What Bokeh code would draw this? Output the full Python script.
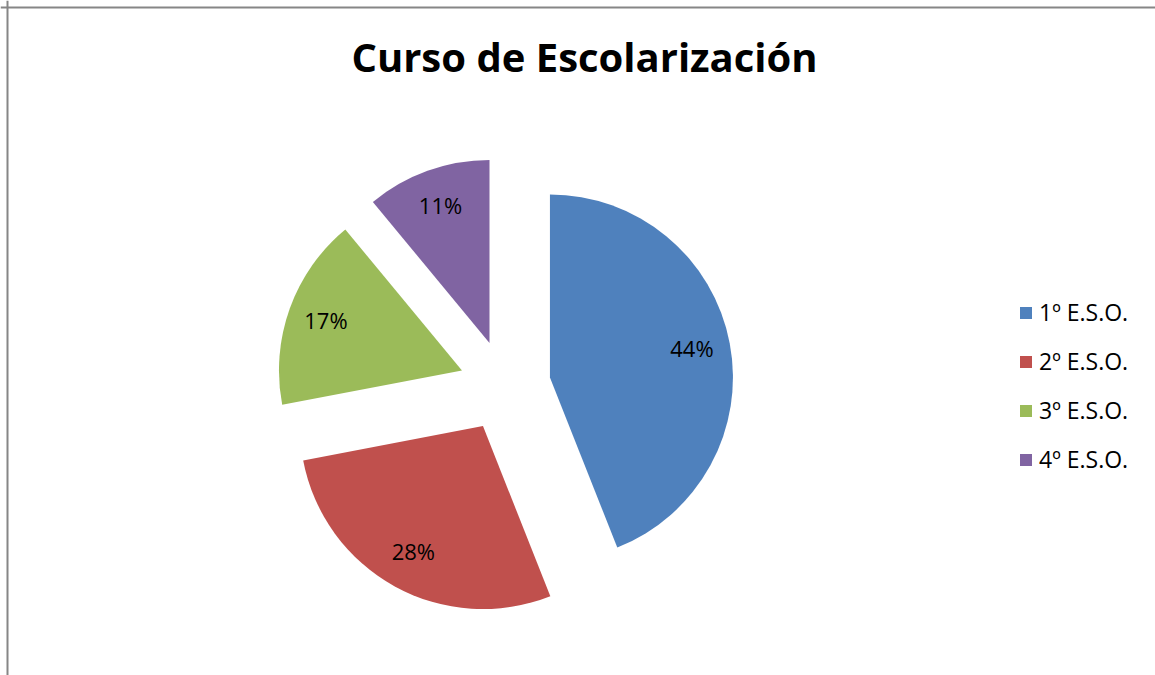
import numpy as np
from bokeh.plotting import figure
from bokeh.models import ColumnDataSource, Range1d, Span, Label, Legend, LegendItem
from bokeh.embed import file_html
from bokeh.resources import INLINE
from bokeh.core.properties import value

# ---- data ----
categories = ["1º E.S.O.", "2º E.S.O.", "3º E.S.O.", "4º E.S.O."]
percentages = [44, 28, 17, 11]
colors = ["#4F81BD", "#C0504D", "#9BBB59", "#8064A2"]
title_text = "Curso de Escolarización"

# ---- layout (pixels == data units, y up) ----
W, H = 1155, 675
CX, CY = 504.5, 289.5
R = 183
EXPLODE = 0.25 * R
LABEL_R = 0.79 * R
FONT = "Open Sans"

vals = np.array(percentages, dtype=float)
frac = vals / vals.sum()
c1 = np.cumsum(frac)
c0 = c1 - frac
bis = np.pi * (c0 + c1)          # bisector angle, clockwise from 12 o'clock
xs = CX + EXPLODE * np.sin(bis)
ys = CY + EXPLODE * np.cos(bis)
start = np.pi / 2 - 2 * np.pi * c0
end = np.pi / 2 - 2 * np.pi * c1
lx = xs + LABEL_R * np.sin(bis)
ly = ys + LABEL_R * np.cos(bis)
labels = [f"{v}%" for v in percentages]

src = ColumnDataSource(dict(x=xs, y=ys, start=start, end=end, color=colors,
                            cat=categories, lx=lx, ly=ly, lab=labels))

p = figure(width=W, height=H, x_range=Range1d(0, W), y_range=Range1d(0, H),
           x_axis_type=None, y_axis_type=None, toolbar_location=None,
           output_backend="svg", min_border=0, outline_line_color=None,
           background_fill_color="white", border_fill_color="white")
p.grid.visible = False

wedges = p.wedge(x="x", y="y", radius=R, start_angle="start", end_angle="end",
                 direction="clock", fill_color="color", line_color=None, source=src)

p.text(x="lx", y="ly", text="lab", source=src, text_align="center",
       text_baseline="middle", text_font=value(FONT), text_font_size="22px",
       text_color="black", y_offset=-2)

p.add_layout(Label(x=584, y=H - 57.5, text=title_text, text_align="center",
                   text_baseline="middle", text_font=FONT, text_font_size="40px",
                   text_font_style="bold", text_color="black", y_offset=2))

# chart border (left and top edges visible in reference)
p.add_layout(Span(location=7, dimension="height", line_color="#868686", line_width=2))
p.add_layout(Span(location=H - 7, dimension="width", line_color="#868686", line_width=2))

legend = Legend(items=[LegendItem(label=c, renderers=[wedges], index=i)
                       for i, c in enumerate(categories)],
                location=(1018, 200), orientation="vertical",
                glyph_width=15, glyph_height=15, label_standoff=6,
                spacing=17, padding=0, margin=0,
                border_line_color=None, background_fill_alpha=0,
                label_text_font=FONT, label_text_font_size="23px",
                label_text_color="black")
p.add_layout(legend)

open("out.html", "w").write(file_html(p, INLINE))
